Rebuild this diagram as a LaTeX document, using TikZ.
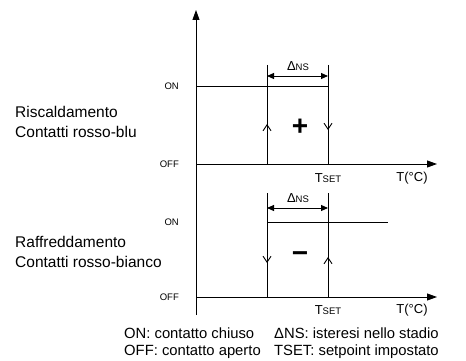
\documentclass[tikz,border=0pt]{standalone}
\usepackage{fontspec}
\setmainfont{Liberation Sans}
\usetikzlibrary{arrows.meta}
\usetikzlibrary{positioning}
\def\xaxis{196}
\def\xon{267}
\def\xset{328}
\tikzset{
line width=0.8pt, % all lines thin
plot line/.style={line width=0.9pt},
axis arrow/.style={line width=0.9pt,-{Triangle[length=10pt,width=7pt]}},
span arrow/.style={line width=0.9pt,{Triangle[length=7pt,width=6pt]}-{Triangle[length=7pt,width=6pt]}},
chev/.style={line width=0.9pt,-{Straight Barb[length=6pt,width=8pt]}},
small text/.style={font=\fontsize{9.5}{11}\selectfont,inner sep=0pt},
mid text/.style={font=\fontsize{13}{15}\selectfont,inner sep=0pt},
big text/.style={font=\fontsize{15.5}{20}\selectfont,inner sep=0pt,align=left},
legend text/.style={font=\fontsize{14.8}{17}\selectfont,inner sep=0pt,align=left},
sign/.style={font=\fontsize{28}{28}\bfseries\selectfont,inner sep=0pt},
}
\newcommand{\tset}{T{\fontsize{9.5}{11}\selectfont SET}}
\newcommand{\dns}{Δ{\fontsize{9.5}{11}\selectfont NS}}

\begin{document}
\begin{tikzpicture}[x=1pt,y=-1pt]
\useasboundingbox (0,0) rectangle (466,361);
% axes
\coordinate (o) at (\xaxis,315);
\coordinate (top) at (\xaxis,10);
\coordinate (hoff) at (\xaxis,164);
\coordinate (hend) at (437,164);
\coordinate (coff) at (\xaxis,297);
\coordinate (cend) at (437,297);
\draw[axis arrow] (o) -- (top);
\draw[axis arrow] (hoff) -- (hend);
\draw[axis arrow] (coff) -- (cend);

% riscaldamento
\coordinate (hon) at (\xaxis,86);
\coordinate (hon2) at (\xset,86);
\coordinate (ha1) at (\xon,65);
\coordinate (ha2) at (\xon,164);
\coordinate (hb1) at (\xset,65);
\coordinate (hb2) at (\xset,164);
\draw[plot line] (hon) -- (hon2);
\draw[plot line] (ha1) -- (ha2);
\draw[plot line] (hb1) -- (hb2);
\draw[span arrow] (\xon,76) -- (\xset,76);
\node[mid text] (hdns) at (298,66) {\dns};
\draw[chev] (\xon,136) -- (\xon,124);
\draw[chev] (\xset,118) -- (\xset,130);
\node[sign] (plus) at (300,127) {+};
\node[small text,anchor=east] (honl) at (179,86) {ON};
\node[small text,anchor=east] (hoffl) at (179,164) {OFF};
\node[mid text] (hset) at (\xset,178) {\tset};
\node[mid text] (ht) at (412,178) {T(°C)};
\node[big text,anchor=west] (heat) at (15,122) {Riscaldamento\\Contatti rosso-blu};

% raffreddamento
\coordinate (con) at (\xon,222);
\coordinate (con2) at (388,222);
\coordinate (ca1) at (\xon,193);
\coordinate (ca2) at (\xon,297);
\coordinate (cb1) at (\xset,193);
\coordinate (cb2) at (\xset,297);
\draw[plot line] (con) -- (con2);
\draw[plot line] (ca1) -- (ca2);
\draw[plot line] (cb1) -- (cb2);
\draw[span arrow] (\xon,208) -- (\xset,208);
\node[mid text] (cdns) at (298,198) {\dns};
\draw[chev] (\xon,251) -- (\xon,263);
\draw[chev] (\xset,269) -- (\xset,257);
\node[sign] (minus) at (300,257) {\textminus};
\node[small text,anchor=east] (conl) at (179,222) {ON};
\node[small text,anchor=east] (coffl) at (179,297) {OFF};
\node[mid text] (cset) at (\xset,310) {\tset};
\node[mid text] (ct) at (412,310) {T(°C)};
\node[big text,anchor=west] (cool) at (15,252) {Raffreddamento\\Contatti rosso-bianco};

% legenda
\node[legend text,anchor=west] (leg1) at (124,343) {ON: contatto chiuso\\OFF: contatto aperto};
\node[legend text,anchor=west] (leg2) at (274,343) {ΔNS: isteresi nello stadio\\TSET: setpoint impostato};
\end{tikzpicture}
\end{document}
